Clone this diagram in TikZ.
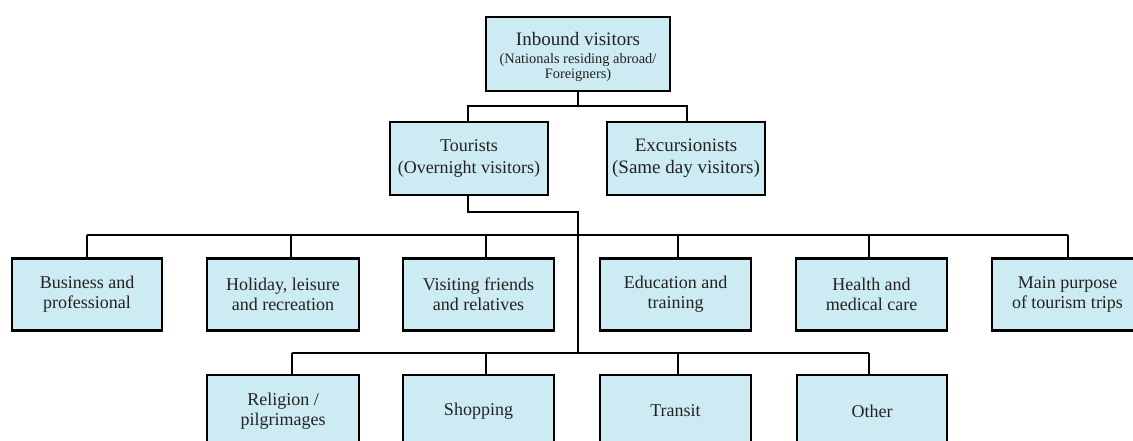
\documentclass[tikz,border=0pt]{standalone}
\usepackage{fontspec}
\setmainfont{Liberation Serif}
\definecolor{boxfill}{RGB}{205,235,242}
\definecolor{inkgray}{RGB}{34,34,34}
\newcommand{\titlesize}{\fontsize{19}{20}\selectfont}
\newcommand{\notesize}{\fontsize{14.4}{20}\selectfont}
\begin{document}
\begin{tikzpicture}[x=1pt,y=-1pt,
  cat/.style={draw=black, line width=2.6pt, fill=boxfill, text=inkgray,
    inner sep=0pt, align=center, minimum width=151pt, minimum height=72pt,
    font=\fontsize{18}{20}\selectfont},
  link/.style={draw=black, line width=2pt}]
\useasboundingbox (0,0) rectangle (1133,440);
\clip (0,0) rectangle (1133,440);

% root and first level
\node[cat, minimum width=184pt, minimum height=74pt] (top) at (578,54)
  {\titlesize\rule{0pt}{19pt}Inbound visitors\\[-2pt]
   \notesize (Nationals residing abroad/\\[-5pt] \notesize Foreigners)};
\node[cat, minimum width=158pt, minimum height=73pt, font=\fontsize{18}{22}\selectfont]
  (tour) at (469,158.5) {Tourists\\(Overnight visitors)};
\node[cat, minimum width=158pt, minimum height=73pt, font=\fontsize{19}{22}\selectfont]
  (exc) at (686,158.5) {Excursionists\\(Same day visitors)};

% purposes, upper row
\node[cat, minimum width=150pt] (bus) at (87,294.5)   {Business and\\professional};
\node[cat, minimum width=152pt] (hol) at (283,294.5)  {Holiday, leisure\\and recreation};
\node[cat] (vis) at (478.5,294.5) {Visiting friends\\and relatives};
\node[cat] (edu) at (675.5,294.5) {Education and\\training};
\node[cat] (hea) at (871.5,294.5) {Health and\\medical care};
\node[cat] (mai) at (1067.5,294.5) {Main purpose\\of tourism trips};

% purposes, lower row
\node[cat, minimum width=152pt] (rel) at (283,411)  {Religion /\\pilgrimages};
\node[cat] (sho) at (478.5,411) {Shopping};
\node[cat] (tra) at (675.5,411) {Transit};
\node[cat, minimum width=150pt] (oth) at (872,411)  {Other};

% root to first level
\coordinate (j0) at (578,106);
\coordinate (t0) at (468,106);
\coordinate (e0) at (687,106);
\draw[link] (top.south) -- (j0);
\draw[link] (t0 |- tour.north) -- (t0) -- (e0) -- (e0 |- exc.north);

% tourists trunk
\coordinate (t1) at (468,212);
\coordinate (m1) at (578,212);
\coordinate (m3) at (578,353);
\draw[link] (t1 |- tour.south) -- (t1) -- (m1) -- (m3);

% upper bar and drops
\coordinate (ubl) at (87,235);
\coordinate (ubr) at (1068,235);
\draw[link] (ubl) -- (ubr);
\foreach \n/\x in {bus/87, hol/291, vis/486, edu/678, hea/869, mai/1068}{
  \coordinate (u\n) at (\x,235);
  \draw[link] (u\n) -- (u\n |- \n.north);
}

% lower bar and drops
\coordinate (lbl) at (292,353);
\coordinate (lbr) at (869,353);
\draw[link] (lbl) -- (lbr);
\foreach \n/\x in {rel/292, sho/486, tra/678, oth/869}{
  \coordinate (l\n) at (\x,353);
  \draw[link] (l\n) -- (l\n |- \n.north);
}
\end{tikzpicture}
\end{document}
